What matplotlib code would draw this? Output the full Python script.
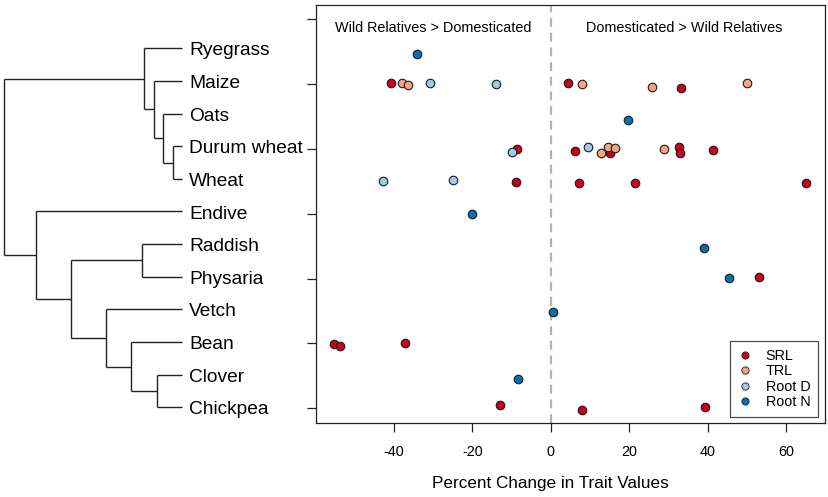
import numpy as np
import matplotlib
matplotlib.use("Agg")
import matplotlib.pyplot as plt
from matplotlib.lines import Line2D

plt.rcParams['font.family'] = ['Liberation Sans', 'DejaVu Sans']

# species in plotting order, top (row 12) to bottom (row 1)
species = ['Ryegrass', 'Maize', 'Oats', 'Durum wheat', 'Wheat', 'Endive',
           'Raddish', 'Physaria', 'Vetch', 'Bean', 'Clover', 'Chickpea']
row = {s: len(species) - i for i, s in enumerate(species)}

# dendrogram: (merge height, left, right)
tree = (178, (37.7, 'Ryegrass', (28, 'Maize', (18.7, 'Oats', (9, 'Durum wheat', 'Wheat')))),
        (146.3, 'Endive', (111.3, (39.7, 'Raddish', 'Physaria'),
                           (76.3, 'Vetch', (51, 'Bean', (25.3, 'Clover', 'Chickpea'))))))

# percent change values, species and the (jittered) row position
srl_sp = ['Maize', 'Maize', 'Maize',
          'Durum wheat', 'Durum wheat', 'Durum wheat', 'Durum wheat', 'Durum wheat', 'Durum wheat',
          'Wheat', 'Wheat', 'Wheat', 'Wheat', 'Physaria', 'Bean', 'Bean', 'Bean',
          'Chickpea', 'Chickpea', 'Chickpea']
srl_val = [-40.7, 4.3, 33.2, -8.6, 6.3, 15.1, 32.7, 32.9, 41.3,
           -8.8, 7.3, 21.5, 65.0, 53.2, -55.2, -53.7, -37.0, -12.8, 7.9, 39.4]
srl_jit = [0.02, 0.02, -0.12, 0.0, -0.07, -0.14, 0.05, -0.11, -0.04,
           -0.02, -0.06, -0.05, -0.06, 0.04, -0.02, -0.08, 0.0, 0.09, -0.05, 0.03]

trl_sp = ['Maize', 'Maize', 'Maize', 'Maize', 'Maize',
          'Durum wheat', 'Durum wheat', 'Durum wheat', 'Durum wheat']
trl_val = [-37.8, -36.3, 7.9, 25.8, 50.0, 12.7, 14.7, 16.3, 28.9]
trl_jit = [0.02, -0.03, 0.0, -0.1, 0.02, -0.11, 0.07, 0.04, 0.0]

rootd_sp = ['Maize', 'Maize', 'Durum wheat', 'Durum wheat', 'Wheat', 'Wheat']
rootd_val = [-30.8, -13.9, -9.8, 9.4, -42.8, -24.8]
rootd_jit = [0.02, -0.01, -0.1, 0.07, 0.0, 0.04]

rootn_sp = ['Ryegrass', 'Oats', 'Endive', 'Raddish', 'Physaria', 'Vetch', 'Clover']
rootn_val = [-34.1, 19.6, -20.1, 39.0, 45.5, 0.7, -8.4]
rootn_jit = [-0.07, -0.11, 0.0, -0.05, 0.03, -0.03, -0.09]

traits = ['SRL', 'TRL', 'Root D', 'Root N']
colors = ['#CA0020', '#F4A582', '#9DCDE4', '#0571B0']

fig = plt.figure(figsize=(8.29, 4.97), dpi=100)

# ---- dendrogram on the left
W, H = 829.0, 497.0
dax = fig.add_axes([4 / W, (H - 407.3) / H, 178 / W, 359 / H])
dax.set_xlim(178, 0)
dax.set_ylim(1, 12)
dax.axis('off')


def draw(node):
    if isinstance(node, str):
        return row[node], 0.0
    h, a, b = node
    ya, ha = draw(a)
    yb, hb = draw(b)
    kw = dict(color='#222222', lw=1.0, clip_on=False, solid_capstyle='butt')
    dax.plot([h, h], [ya, yb], **kw)
    dax.plot([ha, h], [ya, ya], **kw)
    dax.plot([hb, h], [yb, yb], **kw)
    return (ya + yb) / 2.0, h


draw(tree)
for s in species:
    dax.annotate(s, (0, row[s]), xytext=(5, -5.1), textcoords='offset points',
                 ha='left', va='baseline', fontsize=13.8, color='black',
                 annotation_clip=False)

# ---- scatter panel
ax = fig.add_axes([316 / W, (H - 423) / H, 509 / W, 418 / H])
xmin, xmax = -59.8, 69.9
ax.set_xlim(xmin, xmax)
ax.set_ylim(0.547, 13.44)

ax.axvline(0, color='#b3b3b3', lw=1.6, ls=(0, (4, 2.6)), zorder=1)

for sp, val, jit, c in [(srl_sp, srl_val, srl_jit, colors[0]),
                         (trl_sp, trl_val, trl_jit, colors[1]),
                         (rootd_sp, rootd_val, rootd_jit, colors[2]),
                         (rootn_sp, rootn_val, rootn_jit, colors[3])]:
    y = np.array([row[s] for s in sp]) + np.array(jit)
    ax.scatter(val, y, s=38, c=c, edgecolors='#1a1a1a', linewidths=0.8, zorder=3)

ax.text(-30, 12.74, 'Wild Relatives > Domesticated', ha='center', va='center', fontsize=10.4)
ax.text(34, 12.74, 'Domesticated > Wild Relatives', ha='center', va='center', fontsize=10.4)

ax.set_xticks([-40, -20, 0, 20, 40, 60])
ax.set_xticklabels(['-40', '-20', '0', '20', '40', '60'])
ax.set_yticks([1, 3, 5, 7, 9, 11, 13])
ax.set_yticklabels([])
ax.tick_params(direction='out', length=6.8, width=0.9, labelsize=10.4, pad=9, color='#222222')
for sp in ax.spines.values():
    sp.set_linewidth(0.9)
    sp.set_color('#222222')

ax.set_xlabel('Percent Change in Trait Values', fontsize=12.3, labelpad=12)
ax.xaxis.label.set_x((0 - xmin) / (xmax - xmin))

handles = [Line2D([], [], ls='none', marker='o', markersize=5.2, markerfacecolor=c,
                  markeredgecolor='#1a1a1a', markeredgewidth=0.6) for c in colors]
leg = ax.legend(handles, traits, loc='lower right', bbox_to_anchor=(1 - 6.7 / 509, 5.7 / 418),
                fontsize=10.4, frameon=True, fancybox=False, edgecolor='#222222',
                borderaxespad=0, labelspacing=0.1, handlelength=1.0, handletextpad=0.9,
                borderpad=0.55)
leg.get_frame().set_linewidth(0.9)

fig.savefig('out.png', dpi=100)
